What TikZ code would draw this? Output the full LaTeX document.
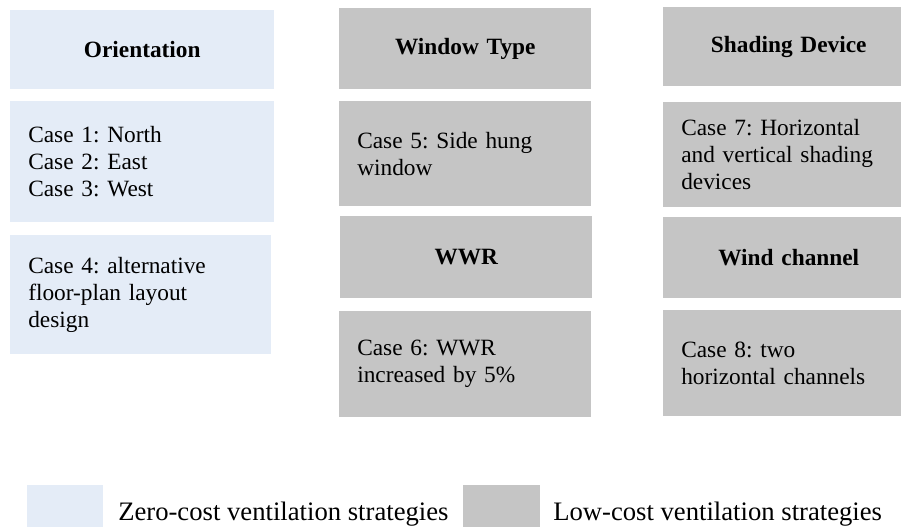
\documentclass[tikz,border=0pt]{standalone}
\usepackage{fontspec}
\setmainfont{Liberation Serif}
\frenchspacing
\definecolor{zeroblue}{RGB}{228,236,247}
\definecolor{lowgray}{RGB}{197,197,197}
\tikzset{
  box/.style={anchor=north west, inner xsep=13.5pt, inner ysep=0pt,
    font=\fontsize{17.5}{20.25}\selectfont},
  zerobox/.style={box, fill=zeroblue},
  lowbox/.style={box, fill=lowgray},
  headtext/.style={align=center, font=\fontsize{17.5}{20.25}\selectfont\bfseries},
  casetext/.style={align=left},
  keytext/.style={anchor=base west, inner sep=0pt, font=\fontsize{20}{24}\selectfont}
}

\begin{document}
\begin{tikzpicture}[x=0.75pt,y=0.75pt,yscale=-1,xscale=1]
\clip (0,0) rectangle (901,526);

% zero-cost column
\node [zerobox, headtext, text width=171pt, minimum height=59.25pt] (orient) at (10,10) {Orientation};
\node [zerobox, casetext, text width=171pt, minimum height=90.75pt] (case13) at (10,101) {Case 1: North\\Case 2: East\\Case 3: West};
\node [zerobox, casetext, text width=168.75pt, minimum height=89.25pt] (case4) at (10,235) {Case 4: alternative\\floor-plan layout\\design};

% low-cost, middle column
\node [lowbox, headtext, text width=162pt, minimum height=60.75pt] (wintype) at (339,8) {Window Type};
\node [lowbox, casetext, text width=162pt, minimum height=78.75pt] (case5) at (339,101) {Case 5: Side hung\\window};
\node [lowbox, headtext, text width=162pt, minimum height=61.5pt] (wwr) at (340,216) {WWR};
\node [lowbox, casetext, text width=162pt, minimum height=79.5pt] (case6) at (339,311) {Case 6: WWR\\increased by 5\%};

% low-cost, right column
\node [lowbox, headtext, text width=161.25pt, minimum height=59.25pt] (shading) at (663,7) {Shading Device};
\node [lowbox, casetext, text width=161.25pt, minimum height=78.75pt] (case7) at (663,102) {Case 7: Horizontal\\and vertical shading\\devices};
\node [lowbox, headtext, text width=161.25pt, minimum height=60.75pt] (windch) at (663,217) {Wind channel};
\node [lowbox, casetext, text width=161.25pt, minimum height=79.5pt] (case8) at (663,310) {Case 8: two\\horizontal channels};

% legend
\node [fill=zeroblue, anchor=north west, inner sep=0pt, minimum width=57pt, minimum height=33pt] (zerokey) at (27,485) {};
\node [keytext] (zerolabel) at (118,520) {Zero-cost ventilation strategies};
\node [fill=lowgray, anchor=north west, inner sep=0pt, minimum width=57.75pt, minimum height=33pt] (lowkey) at (463,485) {};
\node [keytext] (lowlabel) at (553,520) {Low-cost ventilation strategies};

\end{tikzpicture}
\end{document}
